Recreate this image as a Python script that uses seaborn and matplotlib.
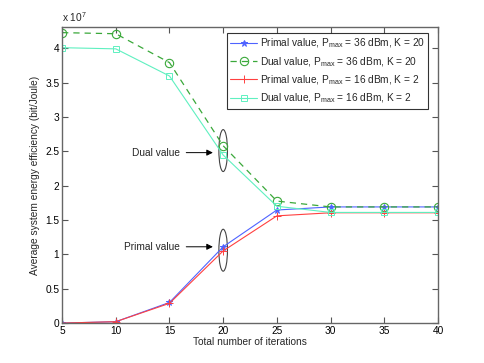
import numpy as np
import pandas as pd
import matplotlib
matplotlib.use("Agg")
import matplotlib.pyplot as plt
import seaborn as sns
from matplotlib.patches import Ellipse
from matplotlib.ticker import FuncFormatter, MultipleLocator

iterations = [5, 10, 15, 20, 25, 30, 35, 40]
primal_36 = [0.0, 0.02e7, 0.30e7, 1.11e7, 1.645e7, 1.69e7, 1.69e7, 1.69e7]
dual_36 = [4.226e7, 4.21e7, 3.79e7, 2.58e7, 1.775e7, 1.69e7, 1.69e7, 1.69e7]
primal_16 = [0.0, 0.02e7, 0.287e7, 1.05e7, 1.56e7, 1.605e7, 1.605e7, 1.605e7]
dual_16 = [4.007e7, 3.99e7, 3.595e7, 2.445e7, 1.70e7, 1.61e7, 1.61e7, 1.61e7]

labels = [
    r"Primal value, P$_{\rm max}$ = 36 dBm, K = 20",
    r"Dual value, P$_{\rm max}$ = 36 dBm, K = 20",
    r"Primal value, P$_{\rm max}$ = 16 dBm, K = 2",
    r"Dual value, P$_{\rm max}$ = 16 dBm, K = 2",
]

sns.set_style("ticks")
plt.rcParams["font.family"] = ["Liberation Sans", "DejaVu Sans"]
plt.rcParams["mathtext.fontset"] = "custom"
plt.rcParams["mathtext.rm"] = "Liberation Sans"
plt.rcParams["mathtext.it"] = "Liberation Sans:italic"

FS = 7.3

fig = plt.figure(figsize=(4.85, 3.63), dpi=100)
ax = fig.add_axes([0.128, 0.110, 0.775, 0.816])

styles = [
    dict(color="#4f63ff", marker="*", linestyle="-", ms=5, mfc="#4f63ff", mew=0.7, lw=0.8),
    dict(color="#3aa83a", marker="o", linestyle=(0, (5, 4)), ms=6, mfc="none", mew=0.8, lw=0.9),
    dict(color="#ff4040", marker="+", linestyle="-", ms=5.5, mfc="none", mew=0.7, lw=0.8),
    dict(color="#5ff0c0", marker="s", linestyle="-", ms=5, mfc="none", mew=0.7, lw=0.8),
]
series = [primal_36, dual_36, primal_16, dual_16]
for vals, lab, st in zip(series, labels, styles):
    df = pd.DataFrame({"it": iterations, "val": vals})
    sns.lineplot(data=df, x="it", y="val", ax=ax, label=lab,
                 color=st["color"], marker=st["marker"], linestyle=st["linestyle"],
                 markersize=st["ms"], markerfacecolor=st["mfc"],
                 markeredgecolor=st["color"], markeredgewidth=st["mew"], linewidth=st["lw"])

ax.set_xlim(5, 40)
ax.set_ylim(0, 4.31e7)
ax.xaxis.set_major_locator(MultipleLocator(5))
ax.yaxis.set_major_locator(MultipleLocator(0.5e7))
ax.yaxis.set_major_formatter(FuncFormatter(lambda v, p: ("%g" % (v / 1e7))))
ax.tick_params(direction="in", top=True, right=True, length=4, width=0.8,
               labelsize=FS, colors="#555555", labelcolor="black", pad=2)
for s in ax.spines.values():
    s.set_color("#666666")
    s.set_linewidth(1.0)

ax.set_xlabel("Total number of iterations", fontsize=FS, labelpad=1)
ax.set_ylabel("Average system energy efficiency (bit/Joule)", fontsize=FS, labelpad=4)
ax.text(0.0, 1.008, r"x 10$^{7}$", transform=ax.transAxes, fontsize=FS, ha="left", va="bottom")

leg = ax.legend(loc="upper right", bbox_to_anchor=(0.98, 0.985), fontsize=FS,
                frameon=True, fancybox=False, handlelength=2.6, borderpad=0.35,
                labelspacing=0.45, handletextpad=0.3, borderaxespad=0.2)
leg.get_frame().set_edgecolor("black")
leg.get_frame().set_linewidth(0.8)

# annotations
ax.add_patch(Ellipse((20, 2.51e7), 0.8, 0.61e7, fill=False, edgecolor="#444444", lw=0.8))
ax.add_patch(Ellipse((20, 1.06e7), 0.8, 0.61e7, fill=False, edgecolor="#444444", lw=0.8))
ax.annotate("Dual value", xy=(19.3, 2.48e7), xytext=(16.0, 2.48e7), fontsize=FS,
            va="center", ha="right",
            arrowprops=dict(arrowstyle="-|>", color="black", lw=0.7, mutation_scale=9))
ax.annotate("Primal value", xy=(19.3, 1.11e7), xytext=(16.0, 1.11e7), fontsize=FS,
            va="center", ha="right",
            arrowprops=dict(arrowstyle="-|>", color="black", lw=0.7, mutation_scale=9))

fig.savefig("out.png", dpi=100)
